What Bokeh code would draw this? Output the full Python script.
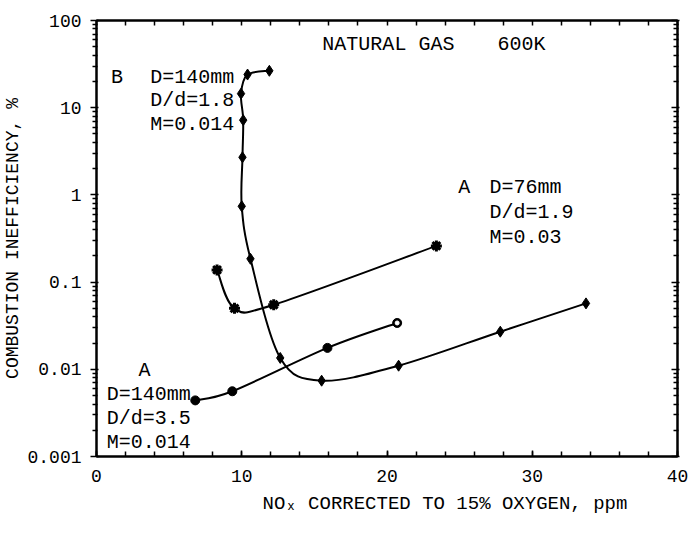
import numpy as np
from bokeh.plotting import figure
from bokeh.models import (LinearAxis, LogAxis, FixedTicker, CustomJSTickFormatter,
                          Range1d, Label, Title)
from bokeh.embed import file_html
from bokeh.resources import INLINE

# ---------------- data ----------------
# B: D=140mm, D/d=1.8, M=0.014 (diamonds)
b_nox = [11.9, 10.4, 9.95, 10.1, 10.05, 10.0, 10.6, 12.65, 15.5, 20.8, 27.8, 33.7]
b_ineff = [26.5, 24.0, 14.5, 7.2, 2.7, 0.74, 0.185, 0.0135, 0.0074, 0.011, 0.027, 0.057]
# A: D=76mm, D/d=1.9, M=0.03 (stars)
a76_nox = [8.3, 9.5, 12.2, 23.4]
a76_ineff = [0.138, 0.05, 0.055, 0.26]
# A: D=140mm, D/d=3.5, M=0.014 (circles)
a140_nox = [6.8, 9.35, 15.9, 20.7]
a140_ineff = [0.0044, 0.0056, 0.0176, 0.034]

x_ticks = [0, 10, 20, 30, 40]
x_tick_labels = ["0", "10", "20", "30", "40"]
y_ticks = [0.001, 0.01, 0.1, 1, 10, 100]
y_tick_labels = ["0.001", "0.01", "0.1", "1", "10", "100"]

x_minor = list(range(0, 41, 2))
y_minor = [k * 10.0 ** e for e in range(-3, 2) for k in range(2, 10)]

FONT = "Liberation Mono"

p = figure(width=699, height=546, x_range=Range1d(0, 40), y_range=Range1d(0.001, 100),
           y_axis_type="log", output_backend="svg", toolbar_location=None,
           min_border_left=93, min_border_right=22, min_border_top=20, min_border_bottom=90)
p.grid.visible = False
p.outline_line_color = "black"
p.outline_line_width = 2
p.background_fill_color = "white"
p.border_fill_color = "white"


def label_fmt(ticks, labels):
    return CustomJSTickFormatter(args=dict(t=ticks, l=labels), code="""
        for (let i = 0; i < t.length; i++) {
            if (Math.abs(t[i] - tick) <= 1e-9 * Math.abs(t[i])) { return l[i]; }
        }
        return '';
    """)


def style(ax):
    ax.axis_line_color = "black"
    ax.axis_line_width = 2
    ax.major_tick_line_color = "black"
    ax.major_tick_line_width = 1.5
    ax.minor_tick_line_color = "black"
    ax.minor_tick_line_width = 1.5
    ax.major_label_text_font = FONT
    ax.major_label_text_font_size = "18px"
    ax.major_label_text_color = "black"
    ax.axis_label_text_font = FONT
    ax.axis_label_text_font_style = "normal"
    ax.axis_label_text_font_size = "18px"
    ax.axis_label_text_color = "black"


# bottom axis
xa = p.xaxis[0]
style(xa)
xa.ticker = FixedTicker(ticks=x_ticks, minor_ticks=x_minor)
xa.formatter = label_fmt(x_ticks, x_tick_labels)
xa.major_tick_in = 6
xa.major_tick_out = 0
xa.minor_tick_in = 5
xa.minor_tick_out = 0
xa.major_label_standoff = 13

# left axis
ya = p.yaxis[0]
style(ya)
ya.ticker = FixedTicker(ticks=y_ticks, minor_ticks=y_minor)
ya.formatter = label_fmt(y_ticks, y_tick_labels)
ya.major_tick_in = 2
ya.major_tick_out = 6
ya.minor_tick_in = 1
ya.minor_tick_out = 4
ya.major_label_standoff = 9
ya.axis_label = "COMBUSTION INEFFICIENCY, %"
ya.axis_label_standoff = 1

# top axis (ticks only)
top = LinearAxis(ticker=FixedTicker(ticks=x_minor), formatter=label_fmt([], []))
style(top)
top.major_tick_in = 5
top.major_tick_out = 0
top.major_label_text_font_size = "0px"
top.major_label_standoff = 0
p.add_layout(top, "above")

# right axis (ticks only)
right = LogAxis(ticker=FixedTicker(ticks=y_ticks, minor_ticks=y_minor), formatter=label_fmt([], []))
style(right)
right.major_tick_in = 6
right.major_tick_out = 2
right.minor_tick_in = 4
right.minor_tick_out = 1
right.major_label_text_font_size = "0px"
right.major_label_standoff = 0
p.add_layout(right, "right")

# x-axis title (placed right of centre as in the reference)
p.add_layout(Title(text="NO\u2093 CORRECTED TO 15% OXYGEN, ppm", align="left", offset=166,
                   text_font=FONT, text_font_size="19px", text_font_style="normal",
                   text_color="black", standoff=12), "below")


# ---------------- smooth curves through the data points ----------------
def smooth(xs, ys):
    """Catmull-Rom segments in (x, log10 y) space, drawn as cubic Beziers."""
    X = np.asarray(xs, float)
    L = np.log10(np.asarray(ys, float))
    n = len(X)
    d = dict(x0=[], y0=[], x1=[], y1=[], cx0=[], cy0=[], cx1=[], cy1=[])
    for i in range(n - 1):
        i0, i2, i3 = max(i - 1, 0), i + 1, min(i + 2, n - 1)
        c0x = X[i] + (X[i2] - X[i0]) / 6.0
        c0l = L[i] + (L[i2] - L[i0]) / 6.0
        c1x = X[i2] - (X[i3] - X[i]) / 6.0
        c1l = L[i2] - (L[i3] - L[i]) / 6.0
        d["x0"].append(X[i]); d["y0"].append(10 ** L[i])
        d["x1"].append(X[i2]); d["y1"].append(10 ** L[i2])
        d["cx0"].append(c0x); d["cy0"].append(10 ** c0l)
        d["cx1"].append(c1x); d["cy1"].append(10 ** c1l)
    return d


for xs, ys in [(b_nox, b_ineff), (a76_nox, a76_ineff), (a140_nox, a140_ineff)]:
    s = smooth(xs, ys)
    p.bezier(x0="x0", y0="y0", x1="x1", y1="y1", cx0="cx0", cy0="cy0",
             cx1="cx1", cy1="cy1", source=s, line_color="black", line_width=2)

p.scatter(b_nox, b_ineff, marker="diamond", size=11, fill_color="black", line_color="black")
p.scatter(a76_nox, a76_ineff, marker="asterisk", size=11, line_color="black", line_width=3)
p.scatter(a76_nox, a76_ineff, marker="square", size=6, fill_color="black", line_color="black")
p.scatter(a140_nox, a140_ineff, marker="circle", size=9, fill_color="black", line_color="black")
# the last point of this series is drawn open in the reference
p.scatter(a140_nox[-1:], a140_ineff[-1:], marker="circle", size=4, fill_color="white",
          line_color="white")


# ---------------- annotations ----------------
def note(x, y, text, size="20px"):
    p.add_layout(Label(x=x, y=y, text=text, text_font=FONT, text_font_size=size,
                       text_baseline="middle", text_align="left", text_color="black"))


note(15.55, 53, "NATURAL GAS")
note(27.6, 53, "600K")

note(1.0, 22.2, "B")
note(3.7, 22.2, "D=140mm")
note(3.7, 12.0, "D/d=1.8")
note(3.7, 6.4, "M=0.014")

note(24.9, 1.22, "A")
note(27.05, 1.22, "D=76mm")
note(27.05, 0.63, "D/d=1.9")
note(27.05, 0.325, "M=0.03")

note(2.9, 0.0096, "A")
note(0.7, 0.0051, "D=140mm")
note(0.7, 0.0027, "D/d=3.5")
note(0.7, 0.00145, "M=0.014")

open("out.html", "w").write(file_html(p, INLINE))
